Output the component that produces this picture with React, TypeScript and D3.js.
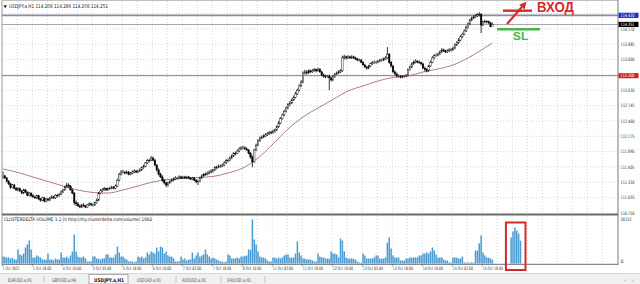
import React from "react";
import * as d3 from "d3";

// ---------- DATA ----------
const firstOpen = 111.42;
const closes = [
  111.44,111.40,111.34,111.29,111.23,111.27,111.21,111.18,
  111.20,111.16,111.12,111.18,111.14,111.08,111.12,111.07,
  111.05,111.03,111.07,111.01,110.99,111.03,110.97,111.01,
  110.99,111.03,111.05,111.03,111.08,111.07,111.10,111.14,
  111.18,111.23,111.27,111.25,111.18,111.12,110.94,110.92,
  110.88,110.86,110.90,110.88,110.86,110.90,110.92,110.90,
  110.90,110.94,110.99,111.12,111.16,111.18,111.20,111.18,
  111.20,111.21,111.23,111.21,111.25,111.36,111.47,111.51,
  111.51,111.49,111.51,111.47,111.49,111.51,111.53,111.51,
  111.53,111.55,111.59,111.62,111.68,111.72,111.73,111.77,
  111.73,111.64,111.55,111.47,111.42,111.36,111.31,111.27,
  111.31,111.34,111.36,111.38,111.40,111.40,111.42,111.40,
  111.42,111.40,111.42,111.40,111.38,111.40,111.36,111.33,
  111.34,111.40,111.44,111.46,111.47,111.49,111.51,111.53,
  111.55,111.59,111.60,111.62,111.62,111.64,111.68,111.72,
  111.73,111.77,111.81,111.85,111.86,111.90,111.94,111.96,
  111.96,111.94,111.92,111.86,111.79,111.70,111.92,112.01,
  112.09,112.14,112.16,112.18,112.20,112.22,112.24,112.25,
  112.27,112.29,112.35,112.42,112.50,112.57,112.64,112.70,
  112.76,112.79,112.85,112.90,112.96,113.03,113.11,113.18,
  113.35,113.37,113.35,113.39,113.37,113.39,113.41,113.39,
  113.42,113.37,113.31,113.29,113.28,113.29,113.26,113.22,
  113.29,113.33,113.35,113.37,113.39,113.63,113.65,113.63,
  113.65,113.63,113.65,113.63,113.61,113.59,113.59,113.55,
  113.50,113.46,113.44,113.48,113.52,113.54,113.55,113.55,
  113.57,113.59,113.59,113.61,113.63,113.70,113.55,113.48,
  113.37,113.33,113.29,113.29,113.28,113.28,113.29,113.31,
  113.41,113.46,113.52,113.55,113.57,113.55,113.54,113.52,
  113.44,113.41,113.39,113.48,113.55,113.63,113.67,113.68,
  113.70,113.74,113.78,113.76,113.74,113.76,113.78,113.78,
  113.81,113.87,113.91,113.96,114.02,114.07,114.13,114.19,
  114.26,114.33,114.37,114.39,114.41,114.43,114.44,114.24,
  114.30,114.31,114.30,114.28,114.208,114.251,
];
const highs = [
  111.52,111.46,111.42,111.36,111.31,111.29,111.29,111.23,
  111.23,111.22,111.18,111.20,111.19,111.15,111.14,111.13,
  111.10,111.07,111.09,111.08,111.03,111.05,111.05,111.03,
  111.03,111.05,111.08,111.07,111.10,111.10,111.12,111.17,
  111.20,111.26,111.31,111.30,111.27,111.20,111.14,110.98,
  110.95,110.91,110.92,110.93,110.90,110.92,110.95,110.94,
  110.93,110.96,111.02,111.14,111.19,111.21,111.23,111.22,
  111.22,111.24,111.26,111.25,111.28,111.39,111.50,111.55,
  111.55,111.53,111.54,111.53,111.51,111.54,111.56,111.55,
  111.55,111.58,111.61,111.65,111.70,111.75,111.76,111.81,
  111.80,111.76,111.66,111.58,111.50,111.45,111.38,111.33,
  111.33,111.36,111.39,111.41,111.43,111.42,111.45,111.44,
  111.44,111.44,111.44,111.44,111.42,111.42,111.42,111.38,
  111.37,111.42,111.47,111.49,111.50,111.52,111.54,111.56,
  111.57,111.62,111.63,111.65,111.65,111.67,111.71,111.75,
  111.76,111.80,111.84,111.88,111.89,111.93,111.97,111.99,
  112.00,111.99,111.97,111.94,111.88,111.82,111.94,112.04,
  112.12,112.17,112.19,112.21,112.23,112.25,112.27,112.28,
  112.30,112.32,112.38,112.46,112.53,112.60,112.67,112.73,
  112.79,112.83,112.88,112.93,113.00,113.06,113.14,113.22,
  113.38,113.41,113.40,113.42,113.41,113.42,113.44,113.43,
  113.45,113.44,113.39,113.34,113.32,113.31,113.32,113.28,
  113.31,113.35,113.38,113.40,113.42,113.67,113.69,113.67,
  113.68,113.67,113.68,113.67,113.65,113.63,113.62,113.61,
  113.57,113.52,113.48,113.50,113.54,113.57,113.58,113.58,
  113.59,113.61,113.62,113.64,113.66,113.83,113.72,113.57,
  113.50,113.40,113.36,113.32,113.31,113.31,113.31,113.33,
  113.43,113.49,113.55,113.58,113.60,113.59,113.58,113.56,
  113.54,113.47,113.44,113.50,113.58,113.66,113.70,113.71,
  113.73,113.77,113.81,113.80,113.78,113.79,113.81,113.81,
  113.84,113.90,113.94,114.00,114.05,114.10,114.16,114.23,
  114.29,114.36,114.40,114.42,114.44,114.46,114.48,114.46,
  114.32,114.34,114.33,114.32,114.30,114.286,
];
const lows = [
  111.38,111.38,111.32,111.27,111.20,111.21,111.19,111.16,
  111.15,111.14,111.10,111.10,111.12,111.06,111.06,111.04,
  111.03,111.01,111.01,110.99,110.96,110.97,110.95,110.95,
  110.97,110.97,111.01,111.01,111.01,111.04,111.05,111.08,
  111.12,111.16,111.21,111.22,111.16,111.10,110.90,110.88,
  110.86,110.84,110.84,110.86,110.84,110.85,110.88,110.88,
  110.87,110.88,110.92,110.97,111.10,111.14,111.16,111.16,
  111.16,111.18,111.19,111.19,111.19,111.23,111.34,111.45,
  111.48,111.47,111.47,111.45,111.45,111.47,111.49,111.49,
  111.49,111.51,111.53,111.57,111.60,111.66,111.69,111.71,
  111.71,111.62,111.52,111.45,111.40,111.33,111.28,111.23,
  111.24,111.29,111.32,111.34,111.36,111.37,111.38,111.38,
  111.38,111.38,111.38,111.38,111.36,111.36,111.34,111.30,
  111.27,111.32,111.38,111.42,111.44,111.45,111.47,111.49,
  111.50,111.53,111.56,111.58,111.59,111.60,111.62,111.66,
  111.69,111.71,111.75,111.79,111.82,111.84,111.88,111.92,
  111.93,111.92,111.90,111.84,111.76,111.60,111.68,111.90,
  111.99,112.07,112.12,112.14,112.16,112.18,112.20,112.21,
  112.22,112.24,112.27,112.33,112.40,112.48,112.55,112.62,
  112.68,112.73,112.77,112.83,112.88,112.94,113.01,113.09,
  113.16,113.32,113.32,113.33,113.35,113.35,113.37,113.36,
  113.37,113.35,113.29,113.26,113.25,113.26,113.03,113.19,
  113.20,113.26,113.31,113.33,113.35,113.37,113.60,113.60,
  113.61,113.61,113.61,113.61,113.59,113.57,113.56,113.53,
  113.48,113.44,113.41,113.42,113.46,113.50,113.52,113.52,
  113.53,113.55,113.56,113.57,113.59,113.61,113.52,113.45,
  113.35,113.31,113.27,113.26,113.25,113.25,113.26,113.27,
  113.29,113.39,113.44,113.50,113.53,113.53,113.52,113.49,
  113.42,113.38,113.36,113.37,113.46,113.53,113.61,113.65,
  113.66,113.68,113.72,113.74,113.72,113.72,113.74,113.75,
  113.76,113.79,113.85,113.89,113.94,114.00,114.05,114.11,
  114.17,114.24,114.31,114.35,114.37,114.39,114.40,114.09,
  114.22,114.27,114.27,114.26,114.20,114.208,
];
const volumes = [
  4640,4500,3900,4100,3300,3800,2700,2600,
  9300,6000,5300,6600,10600,12600,15200,9300,
  4000,3900,5300,4600,4000,2700,2600,2500,
  6600,2600,2700,2000,3300,2700,2600,7300,
  4000,3900,4600,3300,5300,8000,19200,7900,
  4600,4000,3900,4600,3300,1300,1300,1400,
  4600,4700,3300,3200,2600,3300,3400,6000,
  6000,4000,3900,4000,6000,11300,7300,4600,
  4600,3300,2600,1300,1400,1300,700,1300,
  4600,4000,4600,3300,4000,7300,6000,8000,
  7300,6600,10600,8000,11300,10600,6600,8000,
  5300,4600,4600,3300,1300,1300,1400,4600,
  2600,3300,2000,2600,2700,7300,3300,5300,
  7300,4600,5300,6000,9300,6000,4600,3300,
  4000,3300,2600,2000,1300,1300,700,1300,
  6000,5300,3300,3300,3400,4000,3300,4600,
  4600,5000,5300,9300,9000,29200,15900,12600,
  8000,4600,4000,3900,3300,2000,1300,1300,
  4000,3900,3300,4000,3300,4000,5300,6000,
  6000,4000,3900,4000,6600,14600,7300,5300,
  3300,3200,2600,2700,2600,2000,1300,1300,
  6600,4600,4000,3900,3300,3300,3200,8000,
  6600,6500,6000,4000,16600,15200,8000,4000,
  3300,3200,3300,3100,2600,1300,700,600,
  6600,5300,3300,3200,3300,3400,4000,5300,
  5300,3300,3200,3300,4000,13900,17200,9900,
  5300,4000,3900,4000,2000,2000,1900,3300,
  3300,4000,3900,4000,4100,4000,5300,5300,
  6600,6600,7300,6600,8000,10600,8600,6000,
  4000,3900,4000,2600,2000,2000,700,600,
  4000,4000,3900,3300,3300,4600,700,600,
  700,600,700,600,8600,8600,13300,18600,
  7300,5300,4000,3900,3300,2600,
  0,0,0,0,0,0,0,0,0,
  17200,21200,23900,21900,19900,15200,
];
const maBars = [0,8,16,24,32,40,48,56,64,72,80,88,96,104,112,120,128,136,144,152,160,168,176,184,192,200,208,216,224,232,240,248,256,261];
const maValues = [111.567,111.502,111.418,111.335,111.251,111.177,111.131,111.121,111.177,111.251,111.326,111.372,111.391,111.409,111.428,111.493,111.586,111.771,112.031,112.310,112.532,112.700,112.857,113.015,113.108,113.201,113.266,113.294,113.368,113.424,113.498,113.628,113.795,113.906];
const priceTicks = [110.750,111.035,111.320,111.605,111.890,112.175,112.460,112.745,113.030,113.315,113.600,113.885,114.170,114.455];
const priceLabelTicks = [110.750,111.035,111.320,111.605,111.890,112.175,112.460,112.745,113.030,113.600,113.885,114.170];
const timeLabels = ["1 Oct 2021","1 Oct 18:00","4 Oct 10:00","5 Oct 02:00","5 Oct 18:00","6 Oct 10:00","7 Oct 02:00","7 Oct 18:00","8 Oct 10:00","11 Oct 02:00","11 Oct 18:00","12 Oct 10:00","13 Oct 02:00","13 Oct 18:00","14 Oct 10:00","15 Oct 02:00","15 Oct 18:00"];
const timeLabelBars = [0,16,32,48,64,80,96,112,128,144,160,176,192,208,224,240,256];
const entryLevel = 114.420;
const lastPrice = 114.251;
const levelLine = 113.300;
const volumeMax = 30152;
const boxedFrom = 271, boxedTo = 276;
const tabs = ["EURUSD.a,H1","GBPUSD.a,H4","USDJPY.a,H1","USDCAD.a,H1","AUDUSD.a,H1","XAUUSD.a,H1"];
const activeTab = 2;
const title = "USDJPY.a,H1  114.208 114.286 114.208 114.251";
const volTitle = "CLUSTERDELTA VOLUME 3.1 (0 http://my.clusterdelta.com/volume) 1682";

// ---------- LAYOUT ----------
const W = 640, H = 284;
const PL = 2, PR = 618;
const RED = "#d42a2a";
const GREEN = "#47b64a";

export default function App() {
  const x = d3.scaleLinear().domain([0, 328]).range([3, 618]);
  const yP = d3.scaleLinear().domain([110.75, 114.455]).range([213, 13.45]);
  const yV = d3.scaleLinear().domain([0, volumeMax]).range([263.5, 218]);
  const opens = closes.map((c, i) => (i === 0 ? firstOpen : closes[i - 1]));
  const gridXs = d3.range(1, 41).map((k) => x(k * 8) - 0.7);
  const maPath = d3
    .line<number>()
    .x((_, i) => x(maBars[i]))
    .y((d) => yP(d))
    .curve(d3.curveMonotoneX)(maValues) as string;

  // arrow geometry
  const ax1 = 507, ay1 = 24, ax2 = 526.5, ay2 = 1.8;
  const dx = ax2 - ax1, dy = ay2 - ay1, len = Math.hypot(dx, dy);
  const ux = dx / len, uy = dy / len;
  const bx = ax2 - ux * 7, by = ay2 - uy * 7;
  const head = `${ax2},${ay2} ${bx - uy * 3.6},${by + ux * 3.6} ${bx + uy * 3.6},${by - ux * 3.6}`;

  const small = { fontFamily: "'DejaVu Sans', sans-serif" };

  const tabXs = [8, 52, 94, 137, 182, 227];
  const tabSeps = [44, 84, 131, 176, 221, 265];

  return (
    <svg width={W} height={H} style={{ position: "absolute", left: 0, top: 0, display: "block" }}>
      <rect x={0} y={0} width={W} height={H} fill="#fff" />

      {/* grid */}
      <g stroke="#c6c6c6" strokeWidth={0.7} strokeDasharray="1,2">
        {gridXs.map((gx, i) => (
          <line key={"gv" + i} x1={gx} x2={gx} y1={1} y2={213} />
        ))}
        {gridXs.map((gx, i) => (
          <line key={"gw" + i} x1={gx} x2={gx} y1={216} y2={264} />
        ))}
        {priceTicks.slice(1).map((t, i) => (
          <line key={"gh" + i} x1={PL} x2={PR} y1={yP(t)} y2={yP(t)} />
        ))}
      </g>

      {/* level lines */}
      <line x1={PL} x2={PR} y1={yP(levelLine)} y2={yP(levelLine)} stroke="#b86868" strokeWidth={1} />
      <line x1={PL} x2={PR} y1={yP(entryLevel)} y2={yP(entryLevel)} stroke="#8a8aa4" strokeWidth={1.6} />
      <line x1={PL} x2={PR} y1={yP(lastPrice)} y2={yP(lastPrice)} stroke="#a8a8a8" strokeWidth={1.1} />

      {/* moving average */}
      <path d={maPath} fill="none" stroke="#a86e6e" strokeWidth={0.9} />

      {/* candles */}
      <g>
        {closes.map((c, i) => {
          const o = opens[i];
          const cx = x(i);
          const bull = c >= o;
          const yt = yP(Math.max(o, c));
          const yb = yP(Math.min(o, c));
          return (
            <g key={"c" + i}>
              <line x1={cx} x2={cx} y1={yP(highs[i])} y2={yP(lows[i])} stroke="#000" strokeWidth={0.8} />
              <rect x={cx - 0.75} y={yt} width={1.5} height={Math.max(0.6, yb - yt)} fill={bull ? "#fff" : "#000"} stroke="#000" strokeWidth={0.4} />
            </g>
          );
        })}
      </g>

      {/* volume bars */}
      <g fill="#4a9bd3">
        {volumes.map((v, i) =>
          v > 0 ? <rect key={"v" + i} x={x(i) - 0.75} y={yV(v)} width={1.5} height={yV(0) - yV(v)} /> : null
        )}
      </g>

      {/* frame */}
      <line x1={PL} x2={PL} y1={0} y2={264.5} stroke="#9a9a9a" strokeWidth={1} />
      <line x1={PL} x2={PR} y1={0.5} y2={0.5} stroke="#c0c0c0" strokeWidth={1} />
      <line x1={PR} x2={PR} y1={0} y2={265} stroke="#7a7a7a" strokeWidth={1} />
      <line x1={PL} x2={PR} y1={214.5} y2={214.5} stroke="#6a6a6a" strokeWidth={1.8} />
      <line x1={PL} x2={PR} y1={264.3} y2={264.3} stroke="#6a6a6a" strokeWidth={1} />

      {/* time axis */}
      <g fill="#333" fontSize={4.6} style={small}>
        {timeLabelBars.map((b, i) => (
          <g key={"t" + i}>
            <line x1={x(b) - 0.7} x2={x(b) - 0.7} y1={264} y2={266.5} stroke="#555" strokeWidth={0.6} />
            <text x={x(b) - 0.3} y={270} textLength={timeLabels[i].length * 1.6 + 1} lengthAdjust="spacingAndGlyphs">
              {timeLabels[i]}
            </text>
          </g>
        ))}
      </g>

      {/* price axis labels */}
      <g fill="#333" fontSize={4.6} style={small}>
        {priceLabelTicks.map((t, i) => (
          <text key={"p" + i} x={620.5} y={yP(t) + 1.7} textLength={14} lengthAdjust="spacingAndGlyphs">
            {t.toFixed(3)}
          </text>
        ))}
        <text x={620.5} y={221} textLength={11} lengthAdjust="spacingAndGlyphs">{String(volumeMax)}</text>
        <text x={620.5} y={262.5}>0</text>
      </g>
      {[
        { v: entryLevel, fill: "#1e32c8" },
        { v: lastPrice, fill: "#000" },
        { v: levelLine, fill: "#d02222" },
      ].map((b, i) => (
        <g key={"lb" + i}>
          <rect x={618.5} y={yP(b.v) - 2.6} width={20} height={5.2} fill={b.fill} />
          <text x={620.5} y={yP(b.v) + 1.7} fill="#fff" fontSize={4.6} textLength={14} lengthAdjust="spacingAndGlyphs" style={small}>
            {b.v.toFixed(3)}
          </text>
        </g>
      ))}

      {/* titles */}
      <path d="M3.5,5.2 L7,5.2 L5.25,8.2 Z" fill="#222" />
      <text x={9} y={8.3} fontSize={5} fill="#222" textLength={99} lengthAdjust="spacingAndGlyphs" style={small}>
        {title}
      </text>
      <text x={4} y={221.3} fontSize={4.8} fill="#222" textLength={148} lengthAdjust="spacingAndGlyphs" style={small}>
        {volTitle}
      </text>

      {/* annotations */}
      <line x1={503} x2={532} y1={10.7} y2={10.7} stroke={RED} strokeWidth={2.4} />
      <line x1={ax1} y1={ay1} x2={bx} y2={by} stroke={RED} strokeWidth={2.2} />
      <polygon points={head} fill={RED} />
      <text x={537} y={12} fontSize={14} fontWeight="bold" fill={RED} textLength={37} lengthAdjust="spacingAndGlyphs" style={{ fontFamily: "'Liberation Sans', Arial, sans-serif" }}>
        ВХОД
      </text>
      <line x1={497} x2={540} y1={29.3} y2={29.3} stroke={GREEN} strokeWidth={2.4} />
      <text x={512.8} y={40.2} fontSize={11.5} fontWeight="bold" fill={GREEN} textLength={15.5} lengthAdjust="spacingAndGlyphs" style={{ fontFamily: "'Liberation Sans', Arial, sans-serif" }}>
        SL
      </text>
      <rect x={x(boxedFrom) - 5.2} y={222.5} width={x(boxedTo) - x(boxedFrom) + 10.2} height={47.5} fill="none" stroke={RED} strokeWidth={2} />

      {/* tab strip */}
      <rect x={0} y={273.5} width={W} height={10.5} fill="#f0f0f0" />
      <line x1={0} x2={W} y1={273.5} y2={273.5} stroke="#d8d8d8" strokeWidth={1} />
      <rect x={89} y={274.5} width={39} height={9.5} fill="#fff" stroke="#9a9a9a" strokeWidth={0.8} />
      <g fontSize={5} fill="#444" style={small}>
        {tabs.map((t, i) => (
          <text key={"tab" + i} x={tabXs[i]} y={281.5} textLength={i === activeTab ? 30 : 24} lengthAdjust="spacingAndGlyphs" fontWeight={i === activeTab ? "bold" : "normal"} fill={i === activeTab ? "#111" : "#555"}>
            {t}
          </text>
        ))}
        {tabSeps.map((s, i) =>
          i === 1 || i === 2 ? null : (
            <line key={"sep" + i} x1={s} x2={s} y1={276} y2={283} stroke="#aaa" strokeWidth={0.6} />
          )
        )}
        <text x={624} y={281.5} fill="#888">‹</text>
        <text x={632} y={281.5} fill="#888">›</text>
      </g>
    </svg>
  );
}
